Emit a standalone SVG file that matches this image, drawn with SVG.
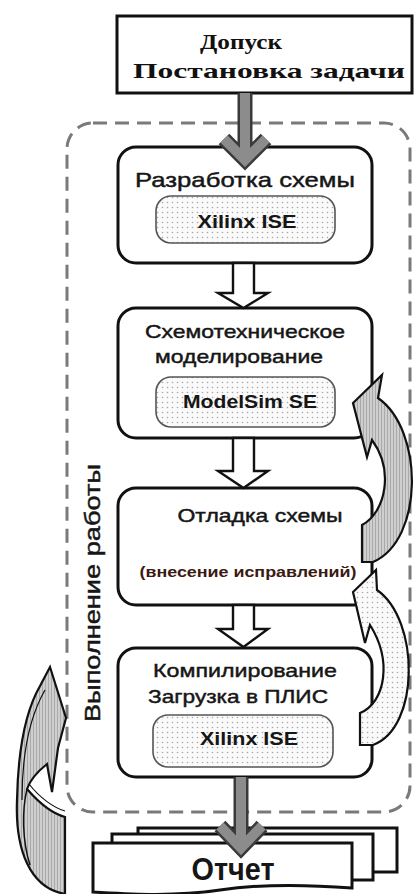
<svg xmlns="http://www.w3.org/2000/svg" width="414" height="894" viewBox="0 0 414 894">
<defs>
  <pattern id="dots" width="5" height="5" patternUnits="userSpaceOnUse">
    <rect width="5" height="5" fill="#fafafa"/>
    <circle cx="2.5" cy="2.5" r="0.8" fill="#a8a8a8"/>
  </pattern>
  <pattern id="stripes" width="3" height="3" patternUnits="userSpaceOnUse">
    <rect width="3" height="3" fill="#cfcfcf"/>
    <rect x="0" width="1" height="3" fill="#a9a9a9"/>
  </pattern>
  <style>
    .box{fill:#fff;stroke:#111;stroke-width:3}
    .inner{fill:url(#dots);stroke:#555;stroke-width:1.6}
    .hollow{fill:#fff;stroke:#111;stroke-width:2.4;stroke-linejoin:miter}
    .t{font-family:"Liberation Sans",Arial,sans-serif;fill:#161616;stroke:#161616;stroke-width:0.45;text-anchor:middle}
    .tb{font-family:"Liberation Sans",Arial,sans-serif;font-weight:bold;fill:#161616;text-anchor:middle}
    .serif{font-family:"Liberation Serif","Times New Roman",serif;font-weight:bold;fill:#111;text-anchor:middle}
    .garrowO{fill:none;stroke:#3a3a3a;stroke-width:15}
    .garrowI{fill:none;stroke:#8c8c8c;stroke-width:10}
    .curved{stroke:#111;stroke-width:2.2;stroke-linejoin:miter}
  </style>
</defs>

<g id="frame">
  <rect x="67" y="123" width="343" height="689" rx="26" fill="none" stroke="#7a7a7a" stroke-width="3" stroke-dasharray="14 8"/>
  <text class="t" transform="translate(100,593) rotate(-90)" font-size="22" textLength="258" lengthAdjust="spacingAndGlyphs">Выполнение работы</text>
</g>

<g id="n-start">
  <rect class="box" x="117" y="16" width="295" height="77"/>
  <text class="serif" x="241" y="49" font-size="22" textLength="82" lengthAdjust="spacingAndGlyphs">Допуск</text>
  <text class="serif" x="269" y="78" font-size="22" textLength="272" lengthAdjust="spacingAndGlyphs">Постановка задачи</text>
</g>

<g id="n-design">
  <rect class="box" x="118" y="147" width="254" height="116" rx="18"/>
  <text class="t" x="245" y="187" font-size="21" textLength="220" lengthAdjust="spacingAndGlyphs">Разработка схемы</text>
  <rect class="inner" x="156" y="196" width="179" height="47" rx="15"/>
  <text class="tb" x="247" y="228" font-size="18" textLength="99" lengthAdjust="spacingAndGlyphs">Xilinx ISE</text>
</g>

<g id="n-sim">
  <rect class="box" x="118" y="308" width="254" height="130" rx="18"/>
  <text class="t" x="245" y="338" font-size="19" textLength="200" lengthAdjust="spacingAndGlyphs">Схемотехническое</text>
  <text class="t" x="239" y="363" font-size="19" textLength="168" lengthAdjust="spacingAndGlyphs">моделирование</text>
  <rect class="inner" x="156" y="377" width="179" height="50" rx="15"/>
  <text class="tb" x="250" y="408" font-size="18" textLength="134" lengthAdjust="spacingAndGlyphs">ModelSim SE</text>
</g>

<g id="n-debug">
  <rect class="box" x="118" y="488" width="254" height="117" rx="18"/>
  <text class="t" x="260" y="522" font-size="19" textLength="165" lengthAdjust="spacingAndGlyphs">Отладка схемы</text>
  <text class="tb" x="248" y="577" font-size="14" style="fill:#3b1a12" textLength="217" lengthAdjust="spacingAndGlyphs">(внесение исправлений)</text>
</g>

<g id="n-compile">
  <rect class="box" x="118" y="648" width="254" height="129" rx="18"/>
  <text class="t" x="245" y="677" font-size="19" textLength="184" lengthAdjust="spacingAndGlyphs">Компилирование</text>
  <text class="t" x="238" y="703" font-size="19" textLength="180" lengthAdjust="spacingAndGlyphs">Загрузка в ПЛИС</text>
  <rect class="inner" x="153" y="715" width="180" height="52" rx="15"/>
  <text class="tb" x="249" y="745" font-size="18" textLength="98" lengthAdjust="spacingAndGlyphs">Xilinx ISE</text>
</g>

<g id="n-report">
  <rect x="138" y="828" width="259" height="44" fill="#fff" stroke="#111" stroke-width="3"/>
  <rect x="112" y="834" width="261" height="46" fill="#fff" stroke="#111" stroke-width="3"/>
  <path d="M93,843 H352 V888 C300,884 260,884 220,890 C170,897 130,894 93,892 Z" fill="#fff" stroke="#111" stroke-width="3"/>
  <text class="tb" x="233" y="880" font-size="31" textLength="83" lengthAdjust="spacingAndGlyphs">Отчет</text>
</g>

<g id="connectors">
  <path class="garrowO" d="M245,93 V158 M224,139 L245,160 L266,139"/>
  <path class="garrowI" d="M245,93 V156 M224,139 L245,160 L266,139"/>
  <polygon class="hollow" points="233,263 254,263 254,293 268,293 243.5,308 218,293 233,293"/>
  <polygon class="hollow" points="233,438 254,438 254,471 268,471 243.5,488 218,471 233,471"/>
  <polygon class="hollow" points="233,605 254,605 254,629 268,629 243.5,647 218,629 233,629"/>
  <path class="garrowO" d="M241,777 V846 M220,826 L241,848 L262,826"/>
  <path class="garrowI" d="M241,777 V844 M220,826 L241,848 L262,826"/>
  <path class="curved" fill="url(#stripes)" d="M362,525 C386,512 394,470 372,440 L367,457 L353,403 L382,375 L378,398 C424,430 424,540 373,562 L362,562 Z"/>
  <path class="curved" fill="url(#dots)" d="M360,713 C386,702 392,660 370,625 L365,643 L353,592 L376,570 L377,590 C420,620 420,728 373,745 L360,745 Z"/>
  <path class="curved" fill="url(#stripes)" d="M65,894 C30,888 15,850 17,800 C18,752 25,712 40,686 L50,667 L66,718 L58,748 L52,792 L47,764 C37,772 30,780 27,789 C40,804 54,814 65,817 Z"/>
  <path d="M27,789 C22,810 22,840 30,865" fill="none" stroke="#111" stroke-width="1.5"/>
  <path d="M29,784 C40,798 54,808 65,811" fill="none" stroke="#111" stroke-width="1.2"/>
  <path d="M22,800 C22,752 30,716 45,690" fill="none" stroke="#111" stroke-width="1.2"/>
</g>
</svg>
